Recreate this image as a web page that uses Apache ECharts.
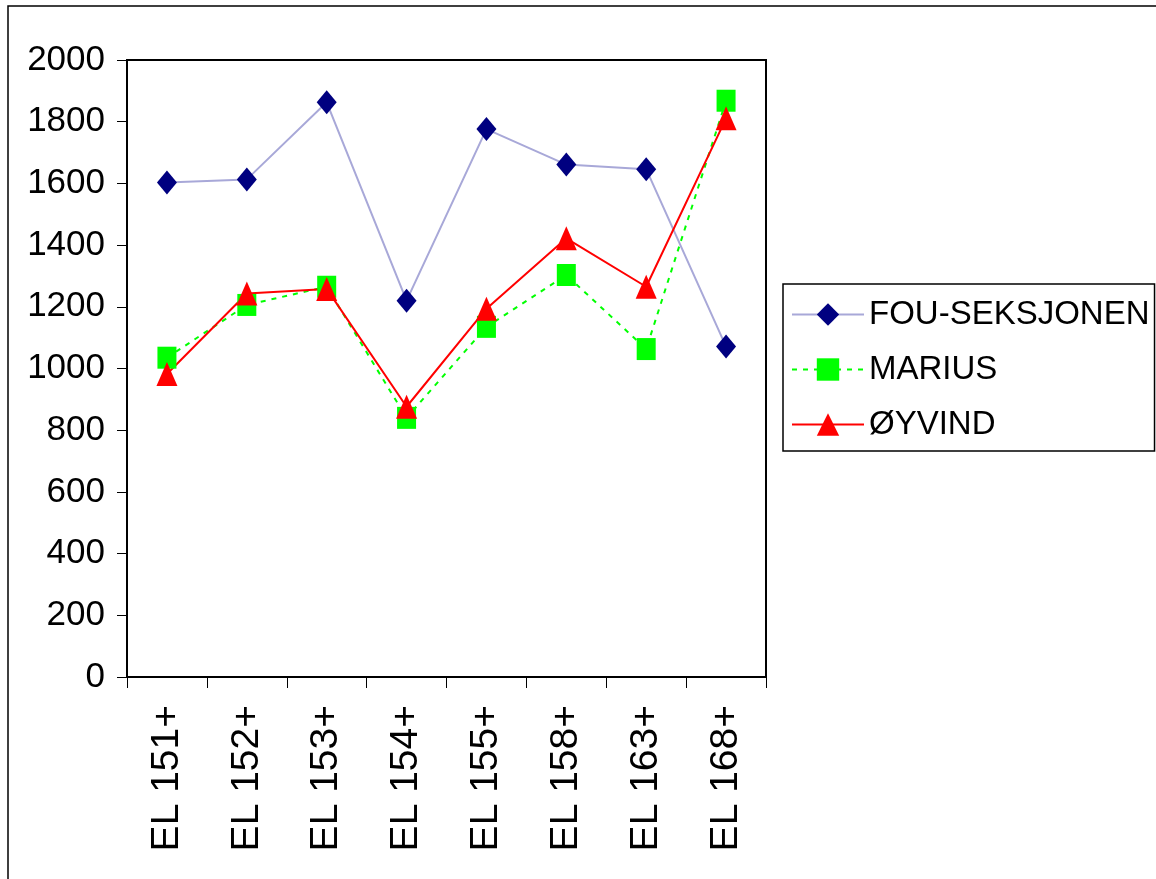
<!DOCTYPE html>
<html>
<head>
<meta charset="utf-8">
<script src="https://cdn.jsdelivr.net/npm/echarts@6/dist/echarts.min.js"></script>
<style>html,body{margin:0;padding:0;background:#fff;}#c{width:1156px;height:879px;}</style>
</head>
<body>
<div id="c"></div>
<script>
const categories = ['EL 151+', 'EL 152+', 'EL 153+', 'EL 154+', 'EL 155+', 'EL 158+', 'EL 163+', 'EL 168+'];
const fouSeksjonen = [1603, 1613, 1863, 1220, 1776, 1661, 1646, 1071];
const marius = [1035, 1206, 1265, 840, 1135, 1303, 1063, 1868];
const oyvind = [982, 1243, 1258, 876, 1194, 1422, 1265, 1811];
const yTicks = { min: 0, max: 2000, interval: 200 };

const font = "'Liberation Sans', Arial, sans-serif";

const chart = echarts.init(document.getElementById('c'), null, { renderer: 'canvas' });
chart.setOption({
  animation: false,
  backgroundColor: '#fff',
  graphic: [{
    type: 'rect', z: -10, silent: true,
    shape: { x: 8, y: 6, width: 1300, height: 1000 },
    style: { fill: 'none', stroke: '#000', lineWidth: 1.5 }
  }],
  grid: { left: 127, top: 60, width: 639, height: 617, show: true, borderColor: '#000', borderWidth: 2, backgroundColor: 'transparent' },
  legend: {
    orient: 'vertical', left: 783, top: 284,
    backgroundColor: '#fff', borderColor: '#000', borderWidth: 1.5,
    padding: [14, 5, 10, 8], itemGap: 22, itemWidth: 72, itemHeight: 28,
    textStyle: { fontFamily: font, fontSize: 33, color: '#000' },
    data: ['FOU-SEKSJONEN', 'MARIUS', 'ØYVIND']
  },
  xAxis: {
    type: 'category', data: categories, boundaryGap: true,
    axisLine: { show: true, lineStyle: { color: '#000', width: 2 } },
    axisTick: { show: true, length: 11, lineStyle: { color: '#000', width: 1 } },
    axisLabel: { rotate: 90, margin: 28, fontFamily: font, fontSize: 39, color: '#000', interval: 0 },
    splitLine: { show: false }
  },
  yAxis: {
    type: 'value', min: yTicks.min, max: yTicks.max, interval: yTicks.interval,
    axisLine: { show: true, lineStyle: { color: '#000', width: 2 } },
    axisTick: { show: true, length: 10, lineStyle: { color: '#000', width: 1 } },
    axisLabel: { margin: 22, fontFamily: font, fontSize: 35, color: '#000', formatter: v => String(v) },
    splitLine: { show: false }
  },
  series: [
    {
      name: 'FOU-SEKSJONEN', type: 'line', data: fouSeksjonen,
      symbol: 'diamond', symbolSize: [20, 24],
      itemStyle: { color: '#000080' },
      lineStyle: { color: '#a8a8d8', width: 2 }
    },
    {
      name: 'MARIUS', type: 'line', data: marius,
      symbol: 'rect', symbolSize: [19, 22],
      itemStyle: { color: '#00ff00' },
      lineStyle: { color: '#00ff00', width: 2, type: [5, 6] }
    },
    {
      name: 'ØYVIND', type: 'line', data: oyvind,
      symbol: 'triangle', symbolSize: [21, 24],
      itemStyle: { color: '#ff0000' },
      lineStyle: { color: '#ff0000', width: 2 }
    }
  ]
});
</script>
</body>
</html>
